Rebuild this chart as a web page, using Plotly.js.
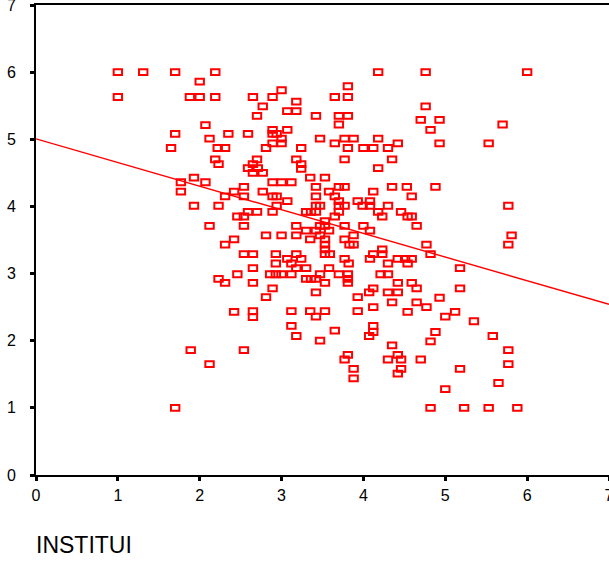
<!DOCTYPE html>
<html>
<head>
<meta charset="utf-8">
<script src="https://cdn.plot.ly/plotly-3.0.1.min.js"></script>
<style>html,body{margin:0;padding:0;background:#fff;}#chart{width:609px;height:563px;}</style>
</head>
<body>
<div id="chart"></div>
<script>
// Scatter values (x = INSTITUI, y = dependent score)
const xValues = [
1.00,1.31,1.70,2.19,2.00,1.00,1.88,2.00,2.19,2.07,1.70,2.12,2.35,1.65,2.22,2.31,2.19,2.23,1.93,
4.18,3.81,3.00,2.65,2.89,3.65,3.81,3.18,2.77,3.07,3.18,2.70,3.42,3.70,3.81,3.70,2.89,3.07,2.59,2.89,2.94,
3.00,3.47,3.77,3.88,4.18,2.89,3.00,3.65,2.81,3.24,3.81,4.00,4.12,2.70,3.18,3.77,2.65,3.24,2.59,2.71,
3.24,4.18,2.65,2.77,3.35,3.53,2.89,3.00,3.12,
4.76,6.00,4.76,4.70,4.93,4.82,5.70,4.42,4.93,5.53,4.30,4.35,
1.77,2.07,1.77,2.42,2.54,2.31,2.54,1.93,2.23,2.59,2.46,2.54,2.12,2.54,2.42,2.31,2.54,2.46,2.23,2.31,
3.42,3.70,3.77,2.77,3.58,4.12,2.89,2.94,3.42,3.65,3.07,3.70,3.93,4.08,2.94,3.42,3.47,3.70,3.77,3.99,4.08,
2.70,2.89,3.30,3.36,3.42,3.70,4.18,3.65,4.23,3.53,3.18,3.47,3.53,3.77,4.00,3.30,3.42,3.58,4.08,
2.81,3.00,3.18,3.47,3.88,3.35,3.77,3.53,3.83,3.53,3.88,3.53,4.23,2.65,2.93,3.18,3.53,3.59,4.12,4.23,
3.07,3.24,3.77,4.08,3.12,2.93,3.82,2.65,3.18,3.30,3.58,2.86,2.93,3.00,3.12,3.47,3.70,3.81,4.21,
3.30,3.36,3.42,3.81,2.65,3.53,3.81,2.89,4.12,3.42,4.07,2.81,3.93,
4.35,4.53,4.88,4.59,4.30,5.77,4.46,4.54,4.59,4.65,5.81,5.77,4.77,4.82,4.42,4.51,4.59,4.30,4.54,5.18,
4.30,4.42,4.59,4.65,5.18,4.30,4.42,4.93,
2.42,1.89,2.54,2.12,1.70,
2.65,2.65,3.12,3.35,3.53,3.93,4.12,3.42,3.12,4.12,4.12,3.65,3.18,4.07,3.47,3.81,3.77,3.88,3.88,
4.35,4.65,4.77,4.54,5.12,5.00,5.35,4.88,4.82,5.58,4.35,4.42,4.30,4.46,4.70,5.77,5.77,4.46,4.42,5.18,
5.65,5.00,4.82,5.23,5.53,5.88
];
const yValues = [
6.00,6.00,6.00,6.00,5.86,5.63,5.63,5.63,5.63,5.21,5.08,5.01,5.08,4.87,4.87,4.87,4.70,4.63,4.43,
6.00,5.79,5.73,5.63,5.63,5.63,5.63,5.56,5.49,5.42,5.42,5.35,5.35,5.35,5.35,5.22,5.14,5.14,5.08,5.08,5.08,
5.01,5.01,5.01,5.01,5.01,4.94,4.94,4.94,4.87,4.87,4.87,4.87,4.87,4.70,4.70,4.70,4.63,4.63,4.57,4.57,
4.56,4.57,4.50,4.50,4.43,4.43,4.36,4.36,4.36,
6.00,6.00,5.49,5.29,5.29,5.14,5.22,4.94,4.94,4.94,4.87,4.70,
4.36,4.36,4.22,4.22,4.29,4.15,4.15,4.01,4.01,3.92,3.85,3.85,3.71,3.71,3.51,3.43,3.29,2.99,2.92,2.86,
4.29,4.29,4.29,4.22,4.22,4.22,4.15,4.15,4.15,4.15,4.08,4.08,4.08,4.08,4.01,4.01,4.01,4.01,4.01,4.01,4.01,
3.92,3.92,3.92,3.92,3.92,3.92,3.92,3.85,3.85,3.78,3.71,3.71,3.71,3.71,3.71,3.64,3.64,3.64,3.64,
3.57,3.57,3.57,3.57,3.57,3.51,3.51,3.51,3.43,3.43,3.43,3.36,3.36,3.29,3.29,3.29,3.29,3.29,3.29,3.29,
3.22,3.22,3.22,3.22,3.15,3.15,3.15,3.08,3.08,3.08,3.08,2.99,2.99,2.99,2.99,2.99,2.99,2.99,2.99,
2.92,2.92,2.92,2.92,2.86,2.86,2.86,2.78,2.78,2.72,2.72,2.65,2.65,
4.29,4.29,4.29,4.15,4.01,4.01,3.92,3.85,3.85,3.71,3.57,3.43,3.43,3.29,3.22,3.22,3.22,3.15,3.15,3.08,
2.99,2.86,2.86,2.78,2.78,2.72,2.72,2.64,
2.43,1.86,1.86,1.65,1.00,
2.44,2.35,2.44,2.44,2.44,2.44,2.50,2.36,2.22,2.22,2.13,2.15,2.07,2.07,2.00,1.79,1.72,1.58,1.44,
2.57,2.57,2.50,2.43,2.43,2.36,2.29,2.13,1.99,2.07,1.93,1.79,1.72,1.72,1.72,1.86,1.65,1.58,1.51,1.58,
1.37,1.28,1.00,1.00,1.00,1.00
];
// Fitted line end points
const fitX = [0, 7];
const fitY = [5.006, 2.542];
const xTicks = [0,1,2,3,4,5,6,7];
const yTicks = [0,1,2,3,4,5,6,7];
const xTitle = "INSTITUI";

const FONT = "Liberation Sans, Arial, Helvetica, sans-serif";
const traces = [
  {type:'scatter', mode:'markers', x:xValues, y:yValues, cliponaxis:false,
   marker:{symbol:'square-open', size:7, color:'#ff0000', line:{color:'#ff0000', width:2}},
   hoverinfo:'skip', showlegend:false},
  {type:'scatter', mode:'lines', x:fitX, y:fitY,
   line:{color:'#ff0000', width:1.4}, hoverinfo:'skip', showlegend:false}
];
const layout = {
  width:609, height:563,
  margin:{l:36, r:0, t:5, b:88},
  paper_bgcolor:'#ffffff', plot_bgcolor:'#ffffff',
  showlegend:false,
  font:{family:FONT, color:'#000000'},
  xaxis:{range:[0,7], tickvals:xTicks, ticktext:xTicks.map(String),
    showgrid:false, zeroline:false, showline:true, mirror:true, linecolor:'#000', linewidth:2,
    ticks:'outside', ticklen:4, tickwidth:3, tickcolor:'#000',
    tickfont:{family:FONT, size:16, color:'#000'}, ticklabelstandoff:1,
    ticklabeloverflow:'allow'},
  yaxis:{range:[0,7], tickvals:yTicks, ticktext:yTicks.map(String),
    showgrid:false, zeroline:false, showline:true, mirror:true, linecolor:'#000', linewidth:2,
    ticks:'outside', ticklen:4, tickwidth:3, tickcolor:'#000',
    tickfont:{family:FONT, size:16, color:'#000'}, ticklabelstandoff:11,
    ticklabeloverflow:'allow'},
  annotations:[{text:xTitle, xref:'paper', yref:'paper', x:-0.004, y:-0.149,
    xanchor:'left', yanchor:'middle', showarrow:false,
    font:{family:FONT, size:23, color:'#000'}}]
};
Plotly.newPlot('chart', traces, layout, {staticPlot:true, displayModeBar:false}).then(function(gd){
  // make the open markers slightly wider than tall, as in the reference
  gd.querySelectorAll('.scatterlayer .trace path.point').forEach(function(p){
    p.setAttribute('d','M4.2,2.9H-4.2V-2.9H4.2Z');
  });
});
</script>
</body>
</html>
